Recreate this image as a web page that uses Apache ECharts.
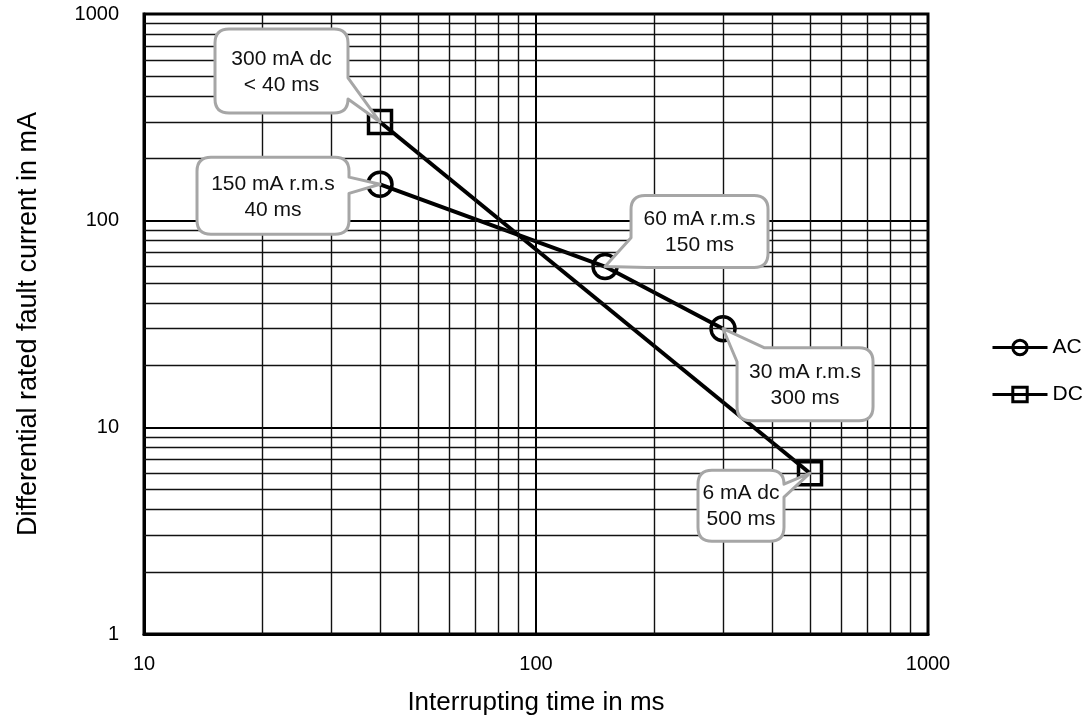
<!DOCTYPE html>
<html><head><meta charset="utf-8">
<script src="https://cdn.jsdelivr.net/npm/echarts@6/dist/echarts.min.js"></script>
<style>html,body{margin:0;padding:0;background:#fff}#c{width:1089px;height:721px}</style>
</head><body><div id="c"></div>
<script>
// ---- data ----
const acTime = [40, 150, 300];
const acCurrent = [150, 60, 30];
const dcTime = [40, 500];
const dcCurrent = [300, 6];
const xTicks = [10, 100, 1000];
const yTicks = [1, 10, 100, 1000];
const minorX = [20, 30, 40, 50, 60, 70, 80, 90, 200, 300, 400, 500, 600, 700, 800, 900];
const minorY = [2, 3, 4, 5, 6, 7, 8, 9, 20, 30, 40, 50, 60, 70, 80, 90, 200, 300, 400, 500, 600, 700, 800, 900];
const calloutTime = [40, 40, 150, 300, 500];
const calloutCurrent = [300, 150, 60, 30, 6];
const calloutText = ['300 mA dc\n< 40 ms', '150 mA r.m.s\n40 ms', '60 mA r.m.s\n150 ms', '30 mA r.m.s\n300 ms', '6 mA dc\n500 ms'];

// ---- callout layout (box offset from point, size, wedge attachment) ----
const calloutLayout = [
  {dx: -165, dy: -93, w: 133, h: 84, s: 2, ta: 0.62, e: 2, tb: 1.0},
  {dx: -183, dy: -27, w: 152, h: 77, s: 2, ta: 0.12, e: 2, tb: 0.45},
  {dx: 26, dy: -71, w: 137, h: 72, s: 4, ta: 0.98, e: 6, tb: 0.36},
  {dx: 14, dy: 19, w: 136, h: 73, s: 6, ta: 1.0, e: 0, tb: 0.12},
  {dx: -112, dy: -3, w: 86, h: 71, s: 2, ta: 0.0, e: 2, tb: 0.3}
];

const FONT = '"Liberation Sans", Arial, Helvetica, sans-serif';

function renderCallout(params, api) {
  const i = params.dataIndex;
  const p = api.coord([api.value(0), api.value(1)]);
  const L = calloutLayout[i];
  const x = p[0] + L.dx, y = p[1] + L.dy, w = L.w, h = L.h, r = 14;
  const segs = [
    {t: 'L', s: [x + r, y], e: [x + w - r, y]},
    {t: 'Q', c: [x + w, y], e: [x + w, y + r]},
    {t: 'L', s: [x + w, y + r], e: [x + w, y + h - r]},
    {t: 'Q', c: [x + w, y + h], e: [x + w - r, y + h]},
    {t: 'L', s: [x + w - r, y + h], e: [x + r, y + h]},
    {t: 'Q', c: [x, y + h], e: [x, y + h - r]},
    {t: 'L', s: [x, y + h - r], e: [x, y + r]},
    {t: 'Q', c: [x, y], e: [x + r, y]}
  ];
  const lerp = (sg, t) => [sg.s[0] + (sg.e[0] - sg.s[0]) * t, sg.s[1] + (sg.e[1] - sg.s[1]) * t];
  const a = lerp(segs[L.s], L.ta), b = lerp(segs[L.e], L.tb);
  let d = 'M' + b[0] + ' ' + b[1] + ' L' + segs[L.e].e.join(' ');
  let k = (L.e + 1) % 8;
  while (k !== L.s) {
    const sg = segs[k];
    d += sg.t === 'L' ? ' L' + sg.e.join(' ') : ' Q' + sg.c.join(' ') + ' ' + sg.e.join(' ');
    k = (k + 1) % 8;
  }
  d += ' L' + a.join(' ') + ' L' + p.join(' ') + ' Z';
  return {
    type: 'group',
    children: [
      {type: 'path', shape: {pathData: d}, style: {fill: '#fff', stroke: '#a6a6a6', lineWidth: 3, lineJoin: 'round'}},
      {type: 'text', x: x + w / 2, y: y + h / 2 + 1,
       style: {text: calloutText[i], fill: '#111', fontSize: 21, fontFamily: FONT,
               align: 'center', verticalAlign: 'middle', lineHeight: 26}}
    ]
  };
}

const chart = echarts.init(document.getElementById('c'), null, {renderer: 'canvas'});
chart.setOption({
  animation: false,
  backgroundColor: '#fff',
  textStyle: {fontFamily: FONT, color: '#000'},
  grid: {left: 144, right: 161, top: 14, bottom: 85, show: true, borderColor: '#000', borderWidth: 3, backgroundColor: 'transparent'},
  legend: {
    data: ['AC', 'DC'], orient: 'vertical', left: 986, top: 332,
    itemWidth: 55, itemHeight: 18, itemGap: 26, itemTextGap: 3,
    textStyle: {fontSize: 21, color: '#000', fontFamily: FONT},
    lineStyle: {width: 3}, itemStyle: {borderWidth: 3}
  },
  xAxis: {
    type: 'log', logBase: 10, min: xTicks[0], max: xTicks[xTicks.length - 1],
    name: 'Interrupting time in ms', nameLocation: 'middle', nameGap: 56,
    nameTextStyle: {fontSize: 26, color: '#000', fontFamily: FONT},
    axisLine: {show: true, lineStyle: {color: '#000', width: 3}},
    axisTick: {show: false},
    axisLabel: {fontSize: 20, color: '#000', margin: 20, fontFamily: FONT,
      formatter: v => xTicks.includes(Math.round(v)) ? String(Math.round(v)) : ''},
    splitLine: {show: true, lineStyle: {color: '#000', width: 2}}
  },
  yAxis: {
    type: 'log', logBase: 10, min: yTicks[0], max: yTicks[yTicks.length - 1],
    name: 'Differential rated fault current in mA', nameLocation: 'middle', nameGap: 102,
    nameTextStyle: {fontSize: 27, color: '#000', fontFamily: FONT},
    axisLine: {show: true, lineStyle: {color: '#000', width: 3}},
    axisTick: {show: false},
    axisLabel: {fontSize: 20, color: '#000', margin: 25, fontFamily: FONT,
      formatter: v => yTicks.includes(Math.round(v)) ? String(Math.round(v)) : ''},
    splitLine: {show: true, lineStyle: {color: '#000', width: 2}}
  },
  series: [
    {
      name: 'grid-minor', type: 'line', data: [], silent: true, z: 1,
      markLine: {
        silent: true, symbol: ['none', 'none'], label: {show: false},
        lineStyle: {color: '#111', width: 1.4, type: 'solid'},
        emphasis: {disabled: true},
        data: minorX.map(v => ({xAxis: v})).concat(minorY.map(v => ({yAxis: v})))
      }
    },
    {
      name: 'AC', type: 'line', z: 3,
      data: acTime.map((t, i) => [t, acCurrent[i]]),
      symbol: 'circle', symbolSize: 24,
      lineStyle: {color: '#000', width: 4},
      itemStyle: {color: 'transparent', borderColor: '#000', borderWidth: 3.5}
    },
    {
      name: 'DC', type: 'line', z: 3,
      data: dcTime.map((t, i) => [t, dcCurrent[i]]),
      symbol: 'rect', symbolSize: 23,
      lineStyle: {color: '#000', width: 4},
      itemStyle: {color: 'transparent', borderColor: '#000', borderWidth: 3.5}
    },
    {
      type: 'custom', z: 10, silent: true, clip: false,
      data: calloutTime.map((t, i) => [t, calloutCurrent[i]]),
      renderItem: renderCallout
    }
  ]
});
</script>
</body></html>
